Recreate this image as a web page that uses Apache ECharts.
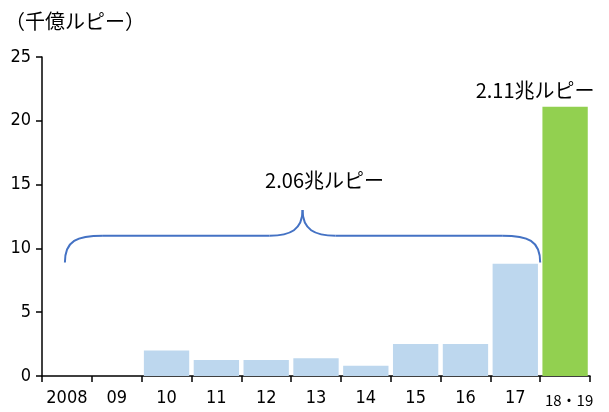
<!DOCTYPE html>
<html>
<head>
<meta charset="utf-8">
<script src="https://cdn.jsdelivr.net/npm/echarts@6/dist/echarts.min.js"></script>
<style>
html,body{margin:0;padding:0;background:#fff;}
#main{width:609px;height:412px;}
</style>
</head>
<body>
<div id="main"></div>
<script>
// Annual amounts, in 100 billion rupees
const categories = ['2008', '09', '10', '11', '12', '13', '14', '15', '16', '17', '18・19'];
const amounts = [0, 0, 2.0, 1.25, 1.25, 1.4, 0.8, 2.5, 2.5, 8.8, 21.1];
const yTicks = [0, 5, 10, 15, 20, 25];
const unitLabel = '（千億ルピー）';
const totalEarlier = '2.06兆ルピー';
const totalLatest = '2.11兆ルピー';

const numFont = '"DejaVu Sans Condensed", "Liberation Sans", sans-serif';
const jpFont = '"Noto Sans CJK JP", sans-serif';

const chart = echarts.init(document.getElementById('main'));

const barData = amounts.map((v, i) => {
  const last = i === amounts.length - 1;
  return {
    value: v,
    itemStyle: { color: last ? '#92D050' : '#BDD7EE' },
    label: last ? {
      show: true,
      position: 'top',
      formatter: totalLatest,
      offset: [-30, -1],
      color: '#000',
      fontFamily: jpFont,
      fontSize: 20
    } : { show: false }
  };
});

chart.setOption({
  animation: false,
  textStyle: { fontFamily: jpFont },
  grid: { left: 42, right: 19, top: 57, bottom: 36 },
  title: {
    text: unitLabel,
    left: 0, top: 6,
    textStyle: { fontFamily: jpFont, fontSize: 20, fontWeight: 'normal', color: '#000' }
  },
  xAxis: {
    type: 'category',
    data: categories,
    axisLine: { lineStyle: { color: '#000', width: 1.5 } },
    axisTick: { show: true, length: 6, alignWithLabel: false, lineStyle: { color: '#000', width: 1.5 } },
    axisLabel: {
      color: '#000', fontFamily: numFont, fontSize: 18, margin: 13, interval: 0,
      formatter: v => v === '18・19' ? '{s|' + v + '}' : v,
      rich: { s: { fontFamily: jpFont, fontSize: 15, color: '#000', padding: [4, 0, 0, 8] } }
    }
  },
  yAxis: {
    type: 'value',
    min: yTicks[0], max: yTicks[yTicks.length - 1], interval: 5,
    splitLine: { show: false },
    axisLine: { show: true, lineStyle: { color: '#000', width: 1.5 } },
    axisTick: { show: true, length: 6, lineStyle: { color: '#000', width: 1.5 } },
    axisLabel: { color: '#000', fontFamily: numFont, fontSize: 18, margin: 11 }
  },
  series: [{
    type: 'bar',
    data: barData,
    barCategoryGap: '9%'
  }]
});

// Curly brace spanning 2008–17, with the period total above it
function drawBrace() {
  const px = (xi, yv) => chart.convertToPixel({ gridIndex: 0 }, [xi, yv]);
  const band = px(1, 0)[0] - px(0, 0)[0];
  const x0 = px(0, 0)[0] - 2;                 // centre of the first category
  const x1 = px(9, 0)[0] + band / 2;          // boundary after the 2008–17 span
  const xm = (x0 + x1) / 2;
  const endY = px(0, 8.9)[1];
  const flatY = px(0, 11)[1];
  const peakY = px(0, 13.0)[1];
  const r = 38, pr = 33;
  const stroke = { stroke: '#4472C4', lineWidth: 2, fill: 'none' };
  const curve = (ax, ay, c1x, c1y, c2x, c2y, bx, by) => ({
    type: 'bezierCurve',
    shape: { x1: ax, y1: ay, cpx1: c1x, cpy1: c1y, cpx2: c2x, cpy2: c2y, x2: bx, y2: by },
    style: stroke
  });
  const line = (ax, ay, bx, by) => ({ type: 'line', shape: { x1: ax, y1: ay, x2: bx, y2: by }, style: stroke });
  chart.setOption({
    graphic: [
      curve(x0, endY, x0, flatY + 5, x0 + 12, flatY, x0 + r, flatY),
      line(x0 + r, flatY, xm - pr, flatY),
      curve(xm - pr, flatY, xm - 12, flatY, xm, flatY - 6, xm, peakY),
      curve(xm, peakY, xm, flatY - 6, xm + 12, flatY, xm + pr, flatY),
      line(xm + pr, flatY, x1 - r, flatY),
      curve(x1 - r, flatY, x1 - 12, flatY, x1, flatY + 5, x1, endY),
      {
        type: 'text',
        x: xm + 22, y: px(0, 15.3)[1],
        style: {
          text: totalEarlier, fill: '#000', font: '20px ' + jpFont,
          textAlign: 'center', textVerticalAlign: 'middle'
        }
      }
    ]
  });
}
drawBrace();
</script>
</body>
</html>
